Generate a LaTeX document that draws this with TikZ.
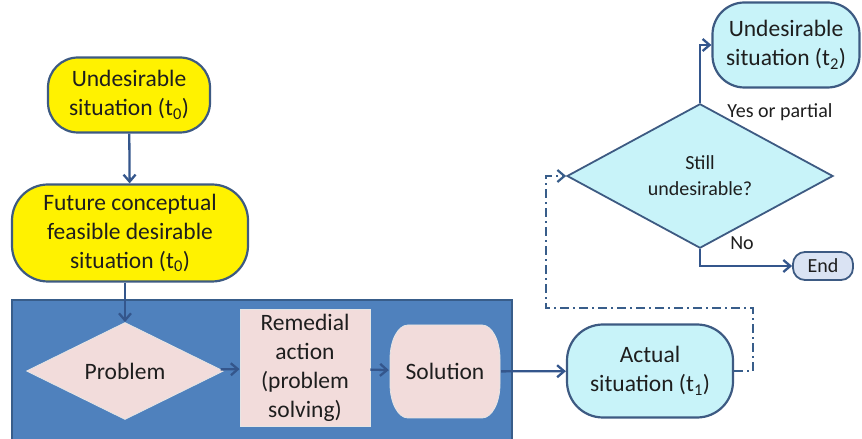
\documentclass[tikz,border=0pt]{standalone}
\usepackage{fontspec}
\setmainfont{Carlito}
\usetikzlibrary{arrows.meta,shapes.geometric,positioning}

\definecolor{edgeblue}{RGB}{61,90,130}
\definecolor{lineblue}{RGB}{52,86,140}
\definecolor{panelblue}{RGB}{79,129,189}
\definecolor{paneledge}{RGB}{56,93,138}
\definecolor{pinkfill}{RGB}{242,220,219}
\definecolor{cyanfill}{RGB}{200,243,249}
\definecolor{endfill}{RGB}{218,227,243}
\definecolor{textgray}{RGB}{30,30,30}

\newcommand{\bigtxt}{\fontsize{23.5}{29}\selectfont}
\newcommand{\smalltxt}{\fontsize{20}{26}\selectfont}

\begin{document}
\begin{tikzpicture}[x=1pt,y=1pt,->,>={Straight Barb[length=7pt,width=12pt]},
                    line width=2.3pt,draw=lineblue,text=textgray,
                    roundbox/.style={rectangle,draw=edgeblue,line width=2.2pt,
                                     align=center,font=\bigtxt,inner sep=2pt},
                    yellowbox/.style={roundbox,fill=yellow},
                    cyanbox/.style={roundbox,fill=cyanfill},
                    pinkbox/.style={rectangle,fill=pinkfill,draw=white!80!gray,
                                    line width=0.8pt,align=center,font=\bigtxt},
                    decision/.style={diamond,draw=edgeblue,line width=1.8pt,
                                     align=center,inner sep=0pt},
                    caption/.style={font=\smalltxt,draw=none},
                    dashdot/.style={draw=paneledge,line width=2.2pt,
                                    dash pattern=on 9pt off 4pt on 2pt off 4pt}]

  \useasboundingbox (0,0) rectangle (862,439);

  % background panel
  \node[rectangle,fill=panelblue,draw=paneledge,line width=1.6pt,
        minimum width=500pt,minimum height=146pt] (panel) at (262,66) {};

  \node[yellowbox,rounded corners=30pt,minimum width=162pt,minimum height=75pt]
        (und0) at (129,344) {Undesirable\\situation (t\textsubscript{0})};
  \node[yellowbox,rounded corners=36pt,minimum width=236pt,minimum height=97pt]
        (fut) at (130,206) {Future conceptual\\feasible desirable\\situation (t\textsubscript{0})};

  \node[decision,fill=pinkfill,draw=white!80!gray,line width=0.8pt,font=\bigtxt,
        minimum width=197pt,minimum height=78pt] (prob) at (125,68) {Problem};
  \node[pinkbox,minimum width=130pt,minimum height=117pt]
        (rem) at (305,71) {Remedial\\action\\(problem\\solving)};

  % solution: box with bulging sides
  \filldraw[-,fill=pinkfill,draw=white!80!gray,line width=0.8pt]
        (408,114) -- (482,114) arc[start angle=90,end angle=0,x radius=18,y radius=34]
        -- (500,55) arc[start angle=0,end angle=-90,x radius=18,y radius=34]
        -- (408,21) arc[start angle=270,end angle=180,x radius=18,y radius=34]
        -- (390,80) arc[start angle=180,end angle=90,x radius=18,y radius=34] -- cycle;
  \node[font=\bigtxt,minimum width=110pt,minimum height=93pt,inner sep=0pt]
        (sol) at (445,67.5) {Solution};

  \node[cyanbox,rounded corners=36pt,minimum width=166pt,minimum height=93pt]
        (act) at (650,68) {Actual\\situation (t\textsubscript{1})};
  \node[decision,fill=cyanfill,font=\smalltxt,
        minimum width=266pt,minimum height=92pt] (still) at (700,263) {Still\\undesirable?};
  \node[cyanbox,rounded corners=32pt,minimum width=147pt,minimum height=85pt]
        (und2) at (786,394) {Undesirable\\situation (t\textsubscript{2})};
  \node[roundbox,fill=endfill,rounded corners=12pt,line width=1.8pt,font=\smalltxt,
        minimum width=60pt,minimum height=28pt,inner sep=1pt] (end) at (823,173) {End};

  \node[caption] (yes) at (780,327) {Yes or partial};
  \node[caption] (no)  at (742,196) {No};

  \coordinate (loopR) at (753,131);
  \coordinate (loopL) at (546,131);

  \path (und0) edge (fut)
        (fut.south -| prob.north) edge (prob)
        (prob) edge (rem)
        (rem) edge (sol)
        (sol) edge (act);

  \draw (still.north) |- (und2.west);
  \draw (still.south) |- (end.west);
  \draw[dashdot] (act.east) -| (loopR) -- (loopL) |- (still.west);
\end{tikzpicture}
\end{document}
